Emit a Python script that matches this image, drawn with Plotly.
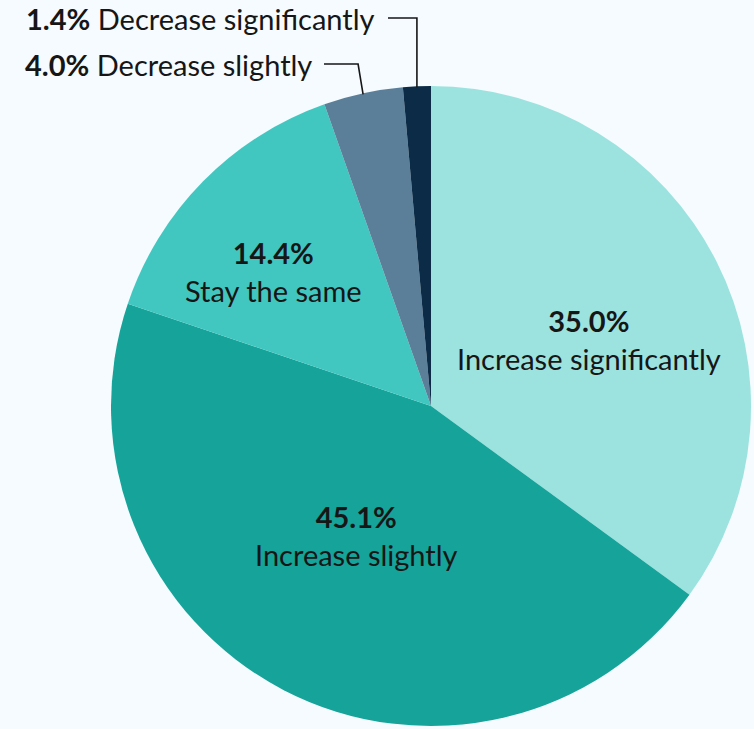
import numpy as np
import plotly.graph_objects as go

# Survey responses (percent of respondents)
categories = ["Increase significantly", "Increase slightly", "Stay the same",
              "Decrease slightly", "Decrease significantly"]
shares = [35.0, 45.1, 14.4, 4.0, 1.4]
colors = ["#9ce3df", "#15a39a", "#41c7c0", "#5b7f99", "#0b2b47"]

W, H = 754, 729
BG = "#f5fbfe"
TXT = "#161616"
FONT = "Lato"
FS = 29

# pie geometry in pixels
cx, cy, r = 431, 406, 320
dom_x = [(cx - r) / W, (cx + r) / W]
dom_y = [1 - (cy + r) / H, 1 - (cy - r) / H]

fig = go.Figure(go.Pie(
    labels=categories,
    values=shares,
    sort=False,
    direction="clockwise",
    rotation=0,
    marker=dict(colors=colors, line=dict(width=0)),
    textinfo="none",
    hoverinfo="label+percent",
    showlegend=False,
    domain=dict(x=dom_x, y=dom_y),
))


def px(x, y):
    return x / W, 1 - y / H


def label_text(i):
    return f"<b>{shares[i]:.1f}%</b><br>{categories[i]}"


annotations = []
# labels placed inside the three large slices
inside = {0: (589, 340), 1: (356, 535), 2: (273, 271)}
for i, (x, y) in inside.items():
    ax, ay = px(x, y)
    annotations.append(dict(
        x=ax, y=ay, xref="paper", yref="paper", xanchor="center", yanchor="middle",
        text=label_text(i), showarrow=False, align="center",
        font=dict(family=FONT, size=FS, color=TXT),
    ))

# outside labels with leader lines for the two small slices
total = sum(shares)
cum = np.cumsum([0] + shares)
shapes = []
outside = {4: (377, 18, 388), 3: (314, 64, 324)}
for i, (tx, ty, lx) in outside.items():
    ax, ay = px(tx, ty)
    annotations.append(dict(
        x=ax, y=ay, xref="paper", yref="paper", xanchor="right", yanchor="middle",
        text=f"<b>{shares[i]:.1f}%</b> {categories[i]}", showarrow=False,
        font=dict(family=FONT, size=FS, color=TXT),
    ))
    mid = (cum[i] + cum[i + 1]) / 2 / total * 2 * np.pi  # clockwise from top
    ex = cx + r * np.sin(mid)
    ey = cy - r * np.cos(mid) + 1
    kx = ex - 5 if i == 3 else ex
    pts = [(lx, ty), (kx, ty), (ex, ey)]
    path = "M " + " L ".join(f"{p[0] / W:.5f},{1 - p[1] / H:.5f}" for p in pts)
    shapes.append(dict(type="path", path=path, xref="paper", yref="paper",
                       line=dict(color=TXT, width=1.6)))

fig.update_layout(
    width=W, height=H,
    margin=dict(l=0, r=0, t=0, b=0),
    paper_bgcolor=BG, plot_bgcolor=BG,
    annotations=annotations,
    shapes=shapes,
)

fig.write_html("out.html")
